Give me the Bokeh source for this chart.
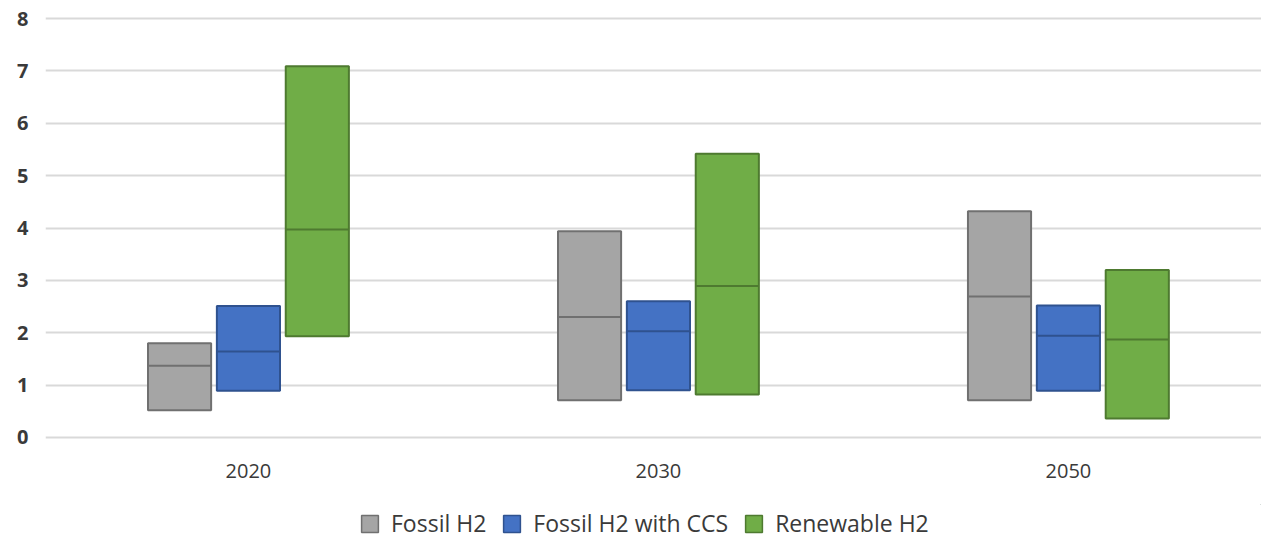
from bokeh.plotting import figure
from bokeh.layouts import column
from bokeh.models import ColumnDataSource, FixedTicker, Legend, LegendItem, Range1d
from bokeh.transform import dodge
from bokeh.embed import file_html
from bokeh.resources import INLINE

years = ["2020", "2030", "2050"]
fossil_low = [0.52, 0.71, 0.71]
fossil_mid = [1.37, 2.30, 2.69]
fossil_high = [1.80, 3.94, 4.32]
ccs_low = [0.89, 0.90, 0.89]
ccs_mid = [1.64, 2.03, 1.94]
ccs_high = [2.51, 2.60, 2.52]
ren_low = [1.93, 0.82, 0.36]
ren_mid = [3.97, 2.89, 1.87]
ren_high = [7.09, 5.42, 3.20]
series_names = ["Fossil H2", "Fossil H2 with CCS", "Renewable H2"]
y_ticks = [0, 1, 2, 3, 4, 5, 6, 7, 8]

FONT = "Open Sans"
TXT = "#3a3a3a"

xs = list(range(len(years)))
src = ColumnDataSource(dict(
    x=xs,
    f_lo=fossil_low, f_mid=fossil_mid, f_hi=fossil_high,
    c_lo=ccs_low, c_mid=ccs_mid, c_hi=ccs_high,
    r_lo=ren_low, r_mid=ren_mid, r_hi=ren_high,
))

p = figure(width=1261, height=504, output_backend="svg", toolbar_location=None,
           x_range=Range1d(-0.495, 2.471), y_range=Range1d(-0.04, 8.04))
p.min_border_left = 45
p.min_border_right = 0
p.min_border_top = 16
p.min_border_bottom = 65
p.outline_line_color = None
p.background_fill_color = "white"
p.border_fill_color = "white"

p.xgrid.grid_line_color = None
p.ygrid.grid_line_color = "#d9d9d9"
p.ygrid.grid_line_width = 2
p.yaxis.ticker = FixedTicker(ticks=y_ticks)
p.xaxis.ticker = FixedTicker(ticks=xs)
p.xaxis.major_label_overrides = {i: y for i, y in enumerate(years)}

for ax in (p.xaxis[0], p.yaxis[0]):
    ax.axis_line_color = None
    ax.major_tick_line_color = None
    ax.minor_tick_line_color = None
    ax.major_tick_out = 0
    ax.major_tick_in = 0
    ax.major_label_text_font = FONT
    ax.major_label_text_color = TXT
    ax.major_label_text_font_size = "20px"
p.yaxis.major_label_standoff = 17
p.yaxis.major_label_text_font_style = "bold"
p.xaxis.major_label_standoff = 24

w = 0.154
off = 0.168
specs = [
    ("f", -off, "#a5a5a5", "#707070"),
    ("c", 0.0, "#4472c4", "#2f528f"),
    ("r", off, "#70ad47", "#4e7a30"),
]
for key, o, fill, line in specs:
    p.vbar(x=dodge("x", o), top=f"{key}_hi", bottom=f"{key}_lo", width=w, source=src,
           fill_color=fill, line_color=line, line_width=2)
    p.segment(x0=dodge("x", o - w / 2), x1=dodge("x", o + w / 2), y0=f"{key}_mid", y1=f"{key}_mid",
              source=src, line_color=line, line_width=2)

# legend strip below the chart (its frame is aligned with the chart's frame)
lg = figure(width=1261, height=35, output_backend="svg", toolbar_location=None,
            x_range=Range1d(0, 1), y_range=Range1d(0, 1),
            x_axis_location=None, y_axis_location=None, min_border=0)
lg.outline_line_color = None
lg.grid.visible = False
items = []
for (key, o, fill, line), name in zip(specs, series_names):
    r = lg.vbar(x=[5], top=[5], bottom=[4], width=0.1,
                fill_color=fill, line_color=line, line_width=1.5)
    items.append(LegendItem(label=name, renderers=[r]))

legend = Legend(items=items, orientation="horizontal", location=(314, 0))
legend.label_text_font = FONT
legend.label_text_font_size = "23px"
legend.label_text_color = TXT
legend.glyph_width = 21
legend.glyph_height = 21
legend.spacing = 15
legend.label_standoff = 11
legend.border_line_color = None
legend.background_fill_alpha = 0
legend.padding = 0
legend.margin = 0
lg.add_layout(legend, "center")

layout = column(p, lg, spacing=0)
open("out.html", "w").write(file_html(layout, INLINE))
